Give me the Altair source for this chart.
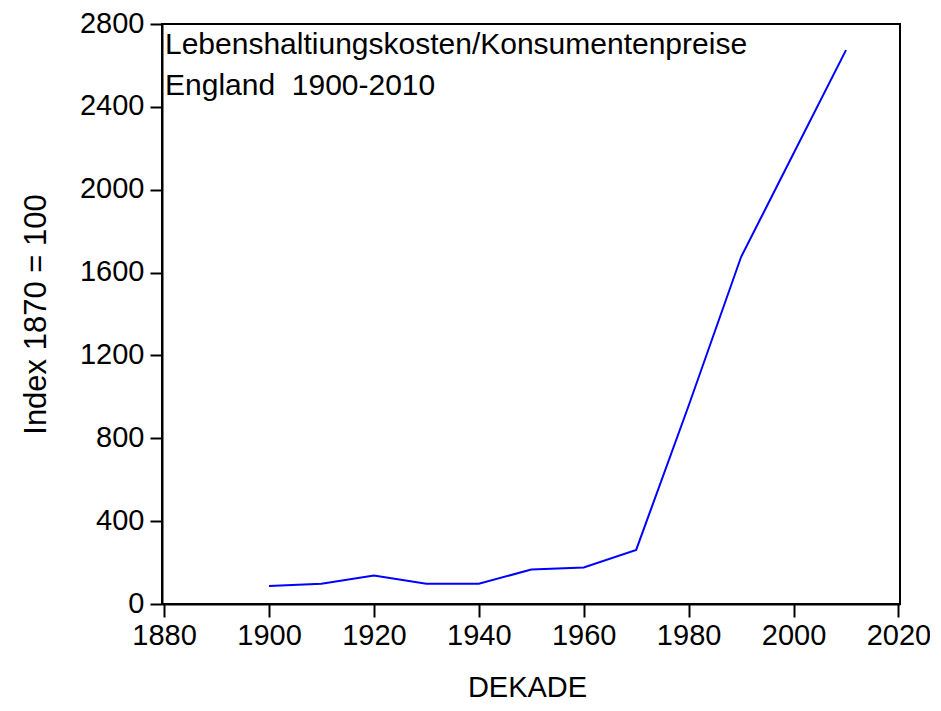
import altair as alt
import pandas as pd

# Data
DEKADE = [1900, 1910, 1920, 1930, 1940, 1950, 1960, 1970, 1980, 1990, 2000, 2010]
INDEX = [87, 98, 137, 98, 98, 166, 176, 261, 957, 1675, 2175, 2674]
X_TICKS = [1880, 1900, 1920, 1940, 1960, 1980, 2000, 2020]
Y_TICKS = [0, 400, 800, 1200, 1600, 2000, 2400, 2800]
TITLE_LINES = ["Lebenshaltiungskosten/Konsumentenpreise", "England\u00a0 1900-2010"]
X_TITLE = "DEKADE"
Y_TITLE = "Index 1870 = 100"

df = pd.DataFrame({"DEKADE": DEKADE, "INDEX": INDEX})
df_title = pd.DataFrame({"id": [0]})

FONT = "Liberation Sans"
W, H = 738, 580

x_enc = alt.X(
    "DEKADE:Q",
    scale=alt.Scale(domain=[1879.6, 2020.3], nice=False, zero=False),
    axis=alt.Axis(
        values=X_TICKS, format="d", grid=False,
        labelFont=FONT, labelFontSize=29, labelColor="black", labelPadding=4,
        tickSize=13, tickWidth=2, tickColor="black",
        domainWidth=2, domainColor="black",
        title=X_TITLE, titleFont=FONT, titleFontSize=29, titleFontWeight="normal",
        titleColor="black", titleX=365, titleY=92, titleAlign="center",
        titleBaseline="alphabetic",
    ),
)
y_enc = alt.Y(
    "INDEX:Q",
    scale=alt.Scale(domain=[0, 2800], nice=False),
    axis=alt.Axis(
        values=Y_TICKS, format="d", grid=False,
        labelFont=FONT, labelFontSize=29, labelColor="black", labelPadding=6,
        labelBaseline="middle", labelOffset=-1,
        tickSize=12, tickWidth=2, tickColor="black",
        domainWidth=2, domainColor="black",
        title=Y_TITLE, titleFont=FONT, titleFontSize=31, titleFontWeight="normal",
        titleColor="black", titleAngle=270, titleX=-117, titleY=290,
        titleAlign="center", titleBaseline="alphabetic",
    ),
)

line = alt.Chart(df).mark_line(color="#0000FF", strokeWidth=2).encode(x=x_enc, y=y_enc)

label = alt.Chart(df_title).mark_text(
    text=TITLE_LINES, align="left", baseline="alphabetic",
    font=FONT, fontSize=30, color="black", lineHeight=41,
).encode(x=alt.value(3), y=alt.value(30))

chart = alt.layer(line, label).properties(
    width=W, height=H,
    background="white",
    autosize=alt.AutoSizeParams(type="none"),
    padding={"left": 154, "top": 16, "right": 30, "bottom": 99},
).configure_view(stroke="black", strokeWidth=2)

chart.save("out.html", embed_options={"renderer": "svg", "actions": False})
